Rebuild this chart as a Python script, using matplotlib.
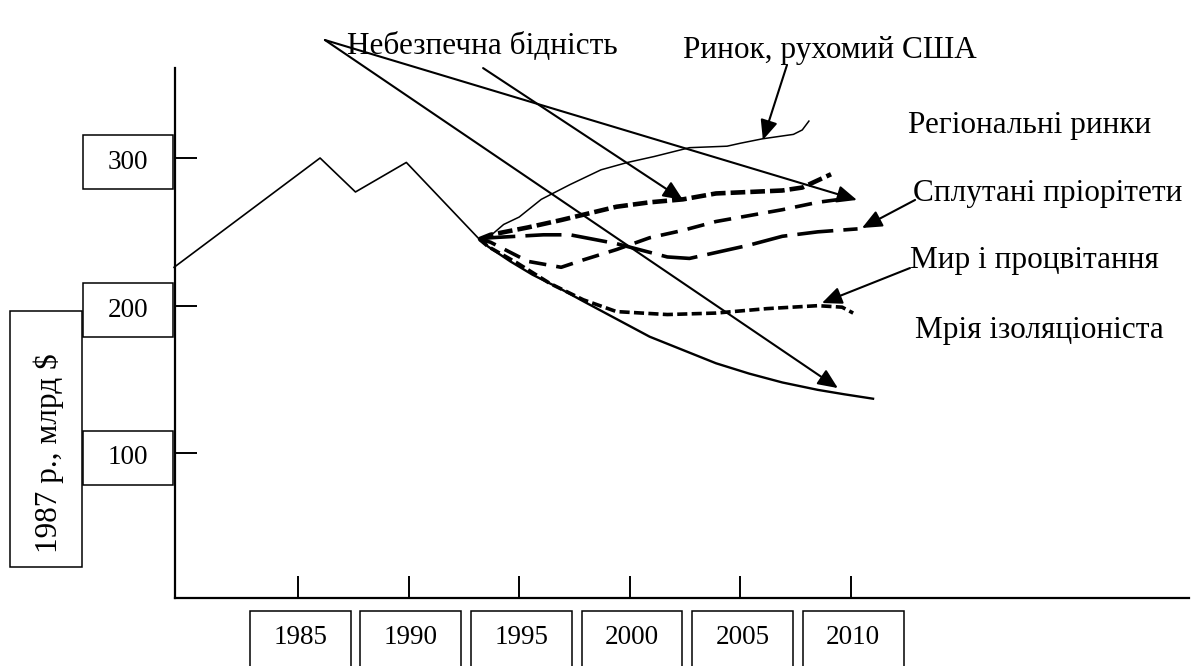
import matplotlib
matplotlib.use("Agg")
import matplotlib.pyplot as plt
from matplotlib.patches import Rectangle

plt.rcParams['font.family'] = ['Liberation Serif', 'DejaVu Serif']

# history (1987 $, bn)
hist_years = [1979.4, 1986.0, 1987.6, 1989.9, 1993.2]
hist_vals = [226, 300, 277, 297, 245]

# scenarios
us_years = [1993.2, 1993.6, 1994.3, 1995.0, 1996.0, 1997.3, 1998.7, 1999.9, 2001.1,
            2002.7, 2004.4, 2005.0, 2006.0, 2007.4, 2007.8, 2008.1]
us_vals = [245, 246, 255, 260, 272, 282, 292, 297, 301, 307, 308, 310, 313, 316, 319, 325]

regional_years = [1993.2, 1993.7, 1995.4, 1996.9, 1999.4, 2000.9, 2002.4, 2003.9,
                  2005.4, 2006.9, 2007.8, 2009.1]
regional_vals = [245, 248, 253, 258, 267, 270, 272, 276, 277, 278, 280, 289]

mixed_years = [1993.2, 1993.7, 1995.4, 1996.9, 1997.9, 1999.4, 2000.9, 2002.4, 2003.9,
               2005.4, 2006.9, 2008.5, 2010.0]
mixed_vals = [245, 243, 230, 226, 231, 238, 246, 251, 257, 261, 265, 270, 273]

danger_years = [1993.2, 1993.7, 1996.1, 1997.3, 1999.4, 2001.7, 2002.7, 2003.9,
                2005.4, 2006.9, 2008.5, 2010.3]
danger_vals = [245, 246, 248, 248, 242, 233, 232, 236, 241, 247, 250, 252]

peace_years = [1993.2, 1993.6, 1994.9, 1996.4, 1997.9, 1999.4, 2001.7, 2003.9,
               2006.2, 2008.5, 2009.6, 2010.1]
peace_vals = [245, 240, 229, 215, 204, 196, 194, 195, 198, 200, 199, 195]

isol_years = [1993.2, 1993.6, 1994.6, 1995.6, 1996.8, 1997.9, 1999.4, 2000.9, 2002.4,
              2003.9, 2005.4, 2006.9, 2008.5, 2009.7, 2011.0]
isol_vals = [245, 240, 230, 221, 212, 203, 191, 179, 170, 161, 154, 148, 143, 140, 137]

x_ticks = [1985, 1990, 1995, 2000, 2005, 2010]
y_ticks = [100, 200, 300]
y_title = '1987 р., млрд $'

fig = plt.figure(figsize=(11.94, 6.66), dpi=100)
ax = fig.add_axes([0, 0, 1, 1])
ax.set_xlim(1971.53, 2025.51)
ax.set_ylim(-44.0, 407.0)

for s in ['top', 'right']:
    ax.spines[s].set_visible(False)
ax.spines['left'].set_position(('data', 1979.44))
ax.spines['left'].set_bounds(2, 361)
ax.spines['bottom'].set_position(('data', 2))
ax.spines['bottom'].set_bounds(1979.44, 2025.3)
for s in ['left', 'bottom']:
    ax.spines[s].set_linewidth(1.6)
ax.set_xticks(x_ticks)
ax.set_yticks(y_ticks)
ax.tick_params(direction='in', length=16, width=1.4, labelleft=False, labelbottom=False)

fs = 19.5
lfs = 22.5
# tick label boxes
for yr in x_ticks:
    ax.add_patch(Rectangle((yr + 0.1 - 2.28, -60), 4.56, 53.2, fill=False, lw=1.1, clip_on=False))
    ax.text(yr + 0.1, -24.4, str(yr), ha='center', va='center', fontsize=fs)
for v in y_ticks:
    ax.add_patch(Rectangle((1975.28, v - 3 - 18.3), 4.07, 36.6, fill=False, lw=1.1))
    ax.text(1977.3, v - 3, str(v), ha='center', va='center', fontsize=fs)
ax.add_patch(Rectangle((1971.98, 23.0), 3.26, 173.4, fill=False, lw=1.1))
ax.text(1973.75, 100.2, y_title, rotation=90, ha='center', va='center', fontsize=lfs)

# lines
ax.plot(hist_years, hist_vals, color='black', lw=1.2)
ax.plot(us_years, us_vals, color='black', lw=1.1)
ax.plot(regional_years, regional_vals, color='black', lw=3.3, dashes=(3.2, 1.1))
ax.plot(mixed_years, mixed_vals, color='black', lw=2.6, dashes=(4.8, 2.8))
ax.plot(danger_years, danger_vals, color='black', lw=2.6, dashes=(10, 2.8))
ax.plot(peace_years, peace_vals, color='black', lw=2.6, dashes=(2.8, 1.2))
ax.plot(isol_years, isol_vals, color='black', lw=1.7)

# labels and pointer arrows
labels = ['Небезпечна бідність', 'Ринок, рухомий США', 'Регіональні ринки',
          'Сплутані пріорітети', 'Мир і процвітання', 'Мрія ізоляціоніста']
label_pos = [(1987.22, 375.8), (2002.41, 373.1), (2012.58, 322.3),
             (2012.80, 276.3), (2012.67, 230.9), (2012.90, 183.5)]
for txt, (x, y) in zip(labels, label_pos):
    ax.text(x, y, txt, ha='left', va='center', fontsize=lfs)

arrows = [((1986.22, 379.9), (2010.27, 271.6)),
          ((1986.22, 379.9), (2009.41, 144.2)),
          ((1993.37, 360.9), (2002.41, 271.6)),
          ((2007.11, 363.0), (2006.02, 312.2)),
          ((2012.90, 271.6), (2010.50, 252.6)),
          ((2012.67, 225.5), (2008.69, 201.8))]
for tail, tip in arrows:
    ax.annotate('', xy=tip, xytext=tail,
                arrowprops=dict(arrowstyle='-|>,head_length=0.8,head_width=0.35',
                                mutation_scale=15, lw=1.5, color='black',
                                shrinkA=0, shrinkB=0))

fig.savefig('out.png', dpi=100)
